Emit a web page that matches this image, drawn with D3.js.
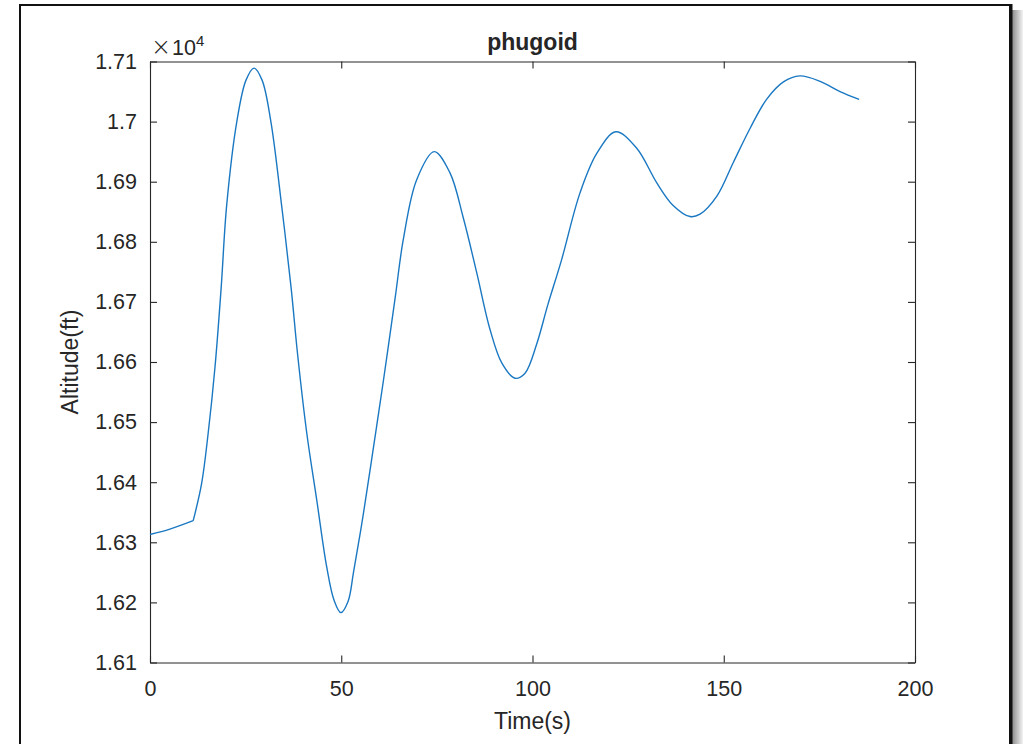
<!DOCTYPE html>
<html>
<head>
<meta charset="utf-8">
<script src="https://cdn.jsdelivr.net/npm/d3@7"></script>
<style>
  html, body { margin: 0; padding: 0; background: #ffffff; }
  svg { display: block; }
  text { font-family: "Liberation Sans", Arial, Helvetica, sans-serif; fill: #262626; }
</style>
</head>
<body>
<svg id="chart" width="1023" height="744"></svg>
<script>
// Phugoid altitude response: time (s) and altitude (ft)
const timeS = [0, 5.2, 11.3, 13.5, 15.2, 17.0, 18.6, 20.05, 22.7, 25.1, 27.2, 29.3, 31.6, 34.4, 36.9, 38.6, 41.0, 43.6, 46.2, 48.1, 49.9, 51.8, 53.2, 55.8, 58.4, 61.0, 64.1, 66.2, 69.7, 74.3, 78.4, 81.9, 85.4, 88.9, 92.0, 95.4, 98.0, 101.1, 104.0, 107.6, 112.4, 116.8, 121.8, 127.2, 132.5, 136.7, 141.2, 143.8, 148.2, 152.5, 156.9, 161.2, 165.6, 169.9, 175.2, 180.4, 185.4];
const altitudeFt = [16313, 16322, 16336, 16398, 16481, 16592, 16723, 16861, 17000, 17069, 17089, 17069, 17000, 16861, 16723, 16612, 16481, 16370, 16259, 16204, 16183, 16202, 16250, 16348, 16457, 16568, 16707, 16803, 16903, 16950, 16915, 16840, 16749, 16654, 16598, 16573, 16581, 16630, 16695, 16770, 16881, 16947, 16983, 16956, 16898, 16861, 16842, 16846, 16876, 16932, 16989, 17037, 17066, 17076, 17067, 17050, 17037];
// index where the elevator input kicks in (the response has a corner there)
const cornerIndex = 2;

const xTicks = [0, 50, 100, 150, 200];
const yTicks = [16100, 16200, 16300, 16400, 16500, 16600, 16700, 16800, 16900, 17000, 17100];
const yTickLabels = ["1.61", "1.62", "1.63", "1.64", "1.65", "1.66", "1.67", "1.68", "1.69", "1.7", "1.71"];

const titleText = "phugoid";
const xLabelText = "Time(s)";
const yLabelText = "Altitude(ft)";

const svg = d3.select("#chart");
const axisColor = "#262626";

// Figure frame with drop shadow on the right
const defs = svg.append("defs");
const grad = defs.append("linearGradient").attr("id", "shadowR").attr("x1", 0).attr("x2", 1).attr("y1", 0).attr("y2", 0);
grad.append("stop").attr("offset", 0).attr("stop-color", "#8a8a8a");
grad.append("stop").attr("offset", 1).attr("stop-color", "#f4f4f4");
svg.append("rect").attr("x", 1012).attr("y", 10).attr("width", 11).attr("height", 734).attr("fill", "url(#shadowR)");
svg.append("rect").attr("x", 20).attr("y", 5).attr("width", 990).attr("height", 760)
  .attr("fill", "#ffffff").attr("stroke", "#111").attr("stroke-width", 2);
svg.append("line").attr("x1", 1011).attr("x2", 1011).attr("y1", 4).attr("y2", 744)
  .attr("stroke", "#111").attr("stroke-width", 3);

const plotL = 150, plotR = 915, plotT = 61.5, plotB = 662.5;
const x = d3.scaleLinear().domain([0, 200]).range([plotL, plotR]);
const y = d3.scaleLinear().domain([16100, 17100]).range([plotB, plotT]);

const fontTick = 21.5;
const tickLen = 7;

// Axes: ticks point inward on all four sides
const axBottom = d3.axisBottom(x).tickValues(xTicks).tickSize(-tickLen).tickSizeOuter(0).tickPadding(tickLen + 11).tickFormat(d3.format("d"));
const axTop = d3.axisTop(x).tickValues(xTicks).tickSize(-tickLen).tickSizeOuter(0).tickFormat("");
const axLeft = d3.axisLeft(y).tickValues(yTicks).tickSize(-tickLen).tickSizeOuter(0).tickPadding(tickLen + 6)
  .tickFormat((d, i) => yTickLabels[i]);
const axRight = d3.axisRight(y).tickValues(yTicks).tickSize(-tickLen).tickSizeOuter(0).tickFormat("");

function styleAxis(g) {
  g.select(".domain").attr("stroke", axisColor).attr("stroke-width", 1.1);
  g.selectAll(".tick line").attr("stroke", axisColor).attr("stroke-width", 1.1);
  g.selectAll(".tick text").attr("fill", axisColor).style("font-size", fontTick + "px")
    .style("font-family", '"Liberation Sans", Arial, sans-serif');
}

svg.append("g").attr("transform", `translate(0,${plotB})`).call(axBottom).call(styleAxis);
svg.append("g").attr("transform", `translate(0,${plotT})`).call(axTop).call(styleAxis);
svg.append("g").attr("transform", `translate(${plotL},0)`).call(axLeft).call(styleAxis);
svg.append("g").attr("transform", `translate(${plotR},0)`).call(axRight).call(styleAxis);

// Data line: smooth segments on either side of the input corner
const pts = timeS.map((t, i) => [t, altitudeFt[i]]);
const line = d3.line().x(d => x(d[0])).y(d => y(d[1])).curve(d3.curveCatmullRom.alpha(0.5));
const segments = [pts.slice(0, cornerIndex + 1), pts.slice(cornerIndex)];
svg.append("path")
  .attr("d", segments.map(s => line(s)).join(""))
  .attr("fill", "none")
  .attr("stroke", "#1a78c2")
  .attr("stroke-width", 1.4)
  .attr("stroke-linejoin", "round");

// Exponent marker above the y axis
const expo = svg.append("text").attr("x", 151).attr("y", 55).style("font-size", fontTick + "px");
expo.append("tspan").style("font-size", "24px").style("font-family", '"DejaVu Sans", sans-serif').style("font-weight", "200").text("×");
expo.append("tspan").attr("dx", 1).text("10");
expo.append("tspan").attr("dy", -9).style("font-size", "15px").text("4");

// Title and axis labels
svg.append("text").attr("x", (plotL + plotR) / 2).attr("y", 50).attr("text-anchor", "middle")
  .style("font-size", "23px").style("font-weight", "bold").text(titleText);
svg.append("text").attr("x", (plotL + plotR) / 2).attr("y", 729).attr("text-anchor", "middle")
  .style("font-size", "23px").text(xLabelText);
svg.append("text").attr("transform", `translate(78,${(plotT + plotB) / 2}) rotate(-90)`)
  .attr("text-anchor", "middle").style("font-size", "23px").text(yLabelText);
</script>
</body>
</html>
